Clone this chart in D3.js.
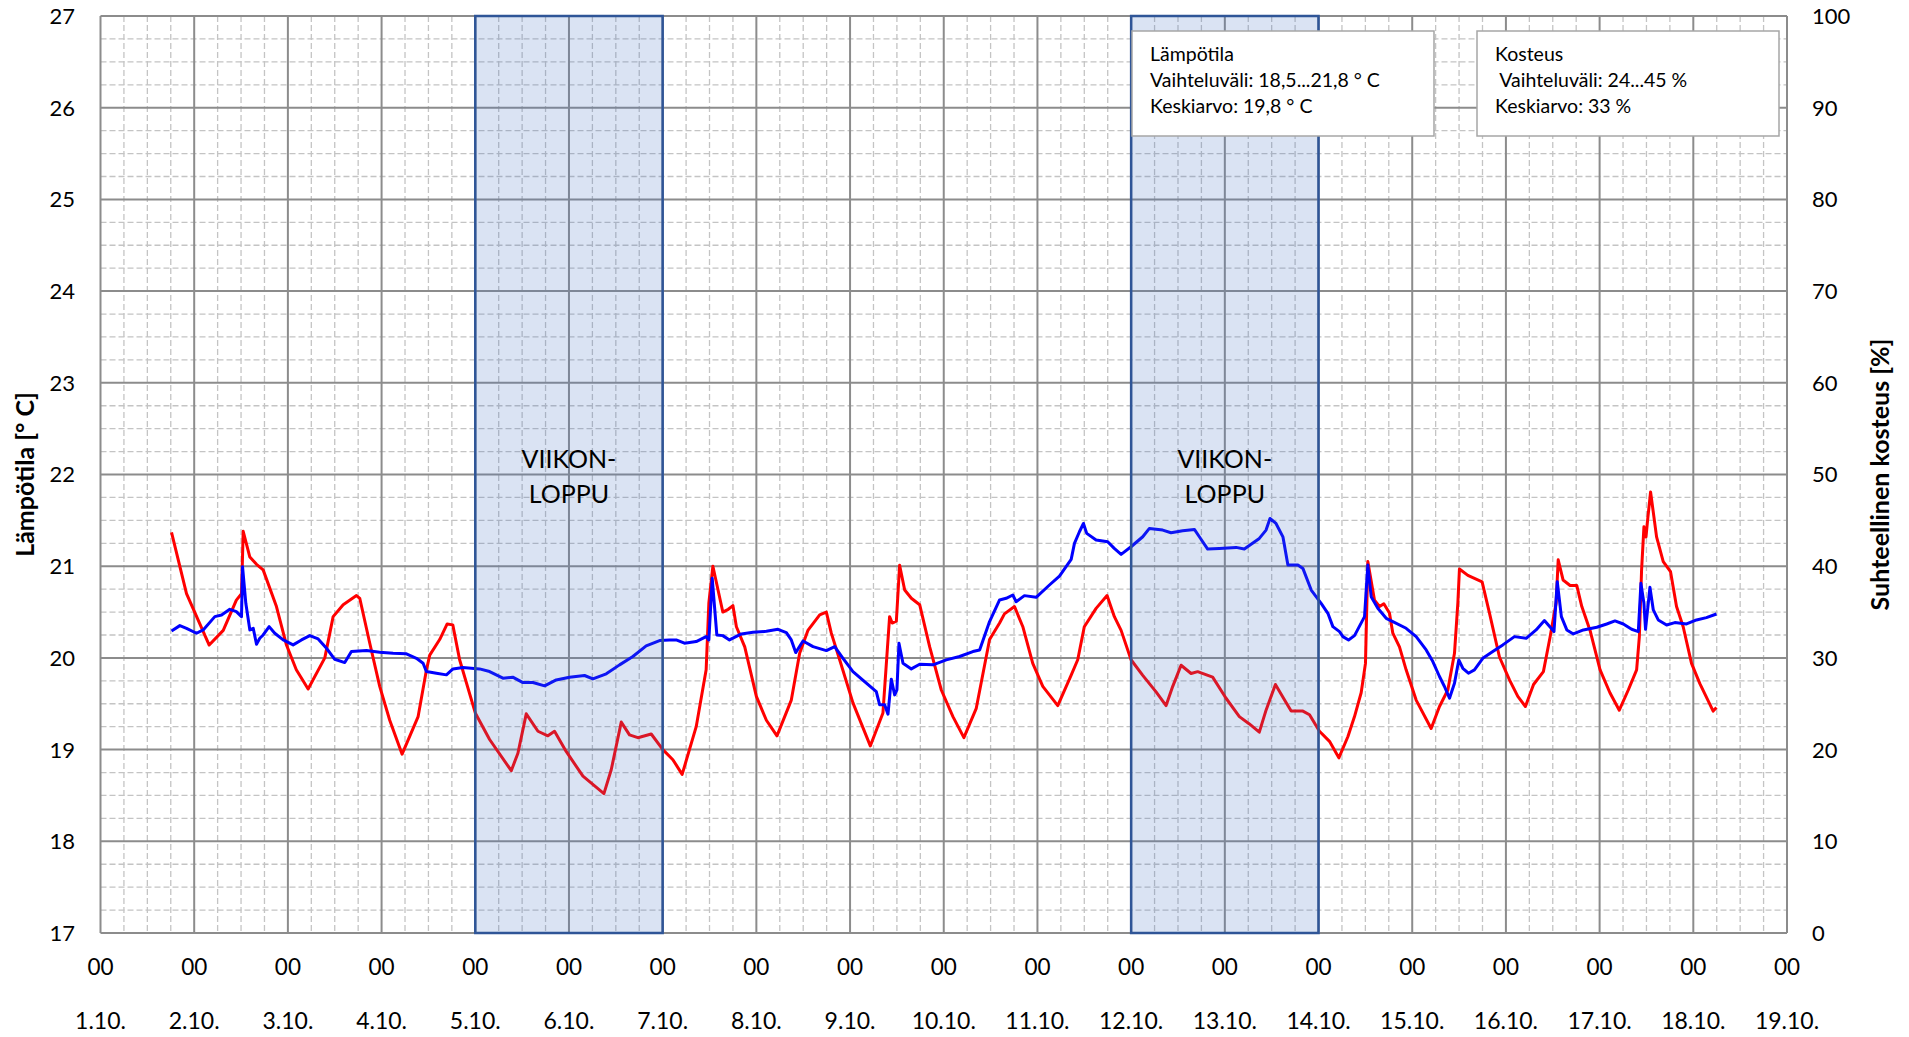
<!DOCTYPE html>
<html lang="fi">
<head>
<meta charset="utf-8">
<title>Lämpötila ja suhteellinen kosteus 1.–19.10.</title>
<script src="https://cdn.jsdelivr.net/npm/d3@7"></script>
<style>
  html, body { margin: 0; padding: 0; background: #fff; }
  svg { display: block; font-family: Lato, "Noto Sans", sans-serif; }
  text { white-space: pre; }
</style>
</head>
<body>
<svg id="chart" width="1909" height="1037"></svg>
<script>
// Day index 0 = 1.10. 00:00, fractional part = time of day
const tempTime = [0.758,0.918,1.16,1.31,1.45,1.505,1.523,1.594,1.665,1.736,1.878,1.985,2.09,2.216,2.394,2.483,2.59,2.732,2.767,2.874,2.98,3.087,3.219,3.39,3.479,3.514,3.62,3.70,3.76,3.833,4.0,4.153,4.384,4.455,4.544,4.669,4.775,4.846,4.97,5.149,5.373,5.451,5.558,5.646,5.735,5.878,6.002,6.109,6.208,6.358,6.464,6.493,6.536,6.642,6.70,6.75,6.787,6.876,7.0,7.107,7.22,7.373,7.462,7.55,7.676,7.747,7.80,7.889,8.031,8.216,8.351,8.422,8.45,8.494,8.529,8.583,8.654,8.743,8.85,8.974,9.098,9.215,9.347,9.489,9.596,9.648,9.755,9.844,9.95,10.057,10.217,10.359,10.43,10.5,10.626,10.743,10.821,10.893,10.999,11.124,11.266,11.373,11.444,11.533,11.64,11.71,11.87,12.013,12.155,12.262,12.368,12.44,12.54,12.655,12.708,12.833,12.904,13.01,13.117,13.217,13.313,13.384,13.455,13.501,13.516,13.526,13.597,13.651,13.697,13.757,13.793,13.864,13.935,14.042,14.202,14.291,14.38,14.451,14.487,14.504,14.594,14.746,14.824,14.931,15.038,15.127,15.208,15.295,15.40,15.472,15.536,15.558,15.61,15.685,15.756,15.81,15.898,16.005,16.11,16.21,16.306,16.395,16.424,16.448,16.473,16.495,16.512,16.544,16.608,16.679,16.757,16.821,16.892,16.981,17.07,17.212,17.247];
const tempC = [21.37,20.70,20.14,20.30,20.63,20.70,21.38,21.10,21.02,20.96,20.56,20.14,19.87,19.66,20.00,20.45,20.58,20.68,20.65,20.16,19.69,19.32,18.95,19.36,19.87,20.03,20.20,20.37,20.36,19.98,19.40,19.11,18.77,18.96,19.39,19.20,19.15,19.20,18.98,18.71,18.52,18.78,19.30,19.16,19.13,19.17,19.00,18.89,18.73,19.25,19.87,20.60,21.00,20.50,20.53,20.57,20.34,20.12,19.58,19.32,19.15,19.54,20.05,20.30,20.47,20.50,20.27,19.98,19.51,19.04,19.40,20.45,20.38,20.40,21.01,20.74,20.65,20.58,20.12,19.65,19.36,19.13,19.45,20.20,20.38,20.48,20.56,20.34,19.94,19.69,19.48,19.81,19.98,20.34,20.54,20.68,20.45,20.30,19.98,19.81,19.63,19.48,19.69,19.92,19.83,19.85,19.79,19.56,19.36,19.28,19.19,19.43,19.71,19.51,19.42,19.42,19.38,19.20,19.09,18.91,19.14,19.36,19.62,19.94,20.60,21.05,20.63,20.56,20.59,20.49,20.27,20.12,19.87,19.54,19.23,19.47,19.65,20.05,20.60,20.97,20.90,20.83,20.49,20.01,19.76,19.58,19.47,19.71,19.85,20.23,20.60,21.07,20.85,20.79,20.79,20.56,20.30,19.87,19.62,19.43,19.65,19.87,20.23,20.96,21.43,21.32,21.50,21.81,21.32,21.05,20.94,20.56,20.34,19.94,19.72,19.42,19.46];

const humTime = [0.758,0.847,0.918,1.025,1.096,1.22,1.292,1.38,1.45,1.505,1.516,1.551,1.594,1.63,1.665,1.70,1.736,1.80,1.86,1.95,2.056,2.145,2.234,2.323,2.412,2.50,2.607,2.678,2.838,2.98,3.123,3.265,3.372,3.443,3.479,3.585,3.692,3.762,3.868,4.046,4.153,4.295,4.40,4.509,4.615,4.74,4.864,5.006,5.166,5.255,5.398,5.54,5.682,5.824,5.967,6.073,6.144,6.233,6.358,6.464,6.493,6.529,6.578,6.642,6.713,6.84,6.964,7.107,7.231,7.32,7.373,7.42,7.498,7.605,7.747,7.836,7.925,8.031,8.174,8.28,8.316,8.369,8.405,8.44,8.476,8.50,8.522,8.565,8.654,8.743,8.885,9.027,9.169,9.311,9.383,9.489,9.596,9.666,9.737,9.772,9.861,9.986,10.128,10.235,10.36,10.395,10.448,10.491,10.526,10.626,10.75,10.82,10.893,10.999,11.124,11.195,11.337,11.426,11.55,11.675,11.728,11.817,11.942,12.12,12.208,12.368,12.44,12.482,12.546,12.62,12.673,12.78,12.833,12.922,13.028,13.10,13.153,13.224,13.26,13.32,13.384,13.491,13.526,13.562,13.633,13.722,13.793,13.935,14.042,14.149,14.22,14.291,14.344,14.398,14.451,14.497,14.54,14.60,14.664,14.753,14.86,14.967,15.091,15.216,15.322,15.411,15.513,15.548,15.592,15.65,15.72,15.827,15.97,16.076,16.164,16.253,16.342,16.413,16.441,16.473,16.49,16.512,16.537,16.573,16.626,16.715,16.803,16.928,17.034,17.14,17.247];
const humPct = [32.94,33.52,33.23,32.69,33.05,34.50,34.68,35.30,35.05,34.50,39.95,35.95,33.05,33.23,31.49,32.14,32.50,33.41,32.69,31.96,31.42,31.96,32.43,32.07,31.05,29.85,29.49,30.69,30.80,30.62,30.51,30.44,29.96,29.42,28.51,28.33,28.15,28.80,28.95,28.80,28.51,27.79,27.90,27.31,27.31,26.95,27.60,27.90,28.08,27.71,28.26,29.24,30.15,31.31,31.89,31.96,31.96,31.60,31.78,32.32,31.96,38.68,32.50,32.43,31.96,32.61,32.79,32.90,33.12,32.76,31.96,30.58,31.85,31.23,30.80,31.23,29.96,28.51,27.24,26.33,24.88,24.88,23.87,27.68,25.97,26.52,31.60,29.42,28.80,29.31,29.24,29.78,30.15,30.69,30.87,33.96,36.32,36.50,36.86,36.13,36.79,36.61,37.95,38.93,40.74,42.49,43.76,44.66,43.58,42.85,42.67,41.94,41.29,42.12,43.21,44.12,43.94,43.65,43.87,44.01,43.21,41.87,41.94,42.05,41.87,43.03,43.94,45.21,44.66,43.20,40.13,40.13,39.76,37.40,35.95,34.86,33.41,32.87,32.32,31.96,32.43,34.50,40.13,36.68,35.41,34.32,33.96,33.23,32.32,30.87,29.60,27.97,26.88,25.61,27.24,29.78,28.87,28.33,28.69,29.96,30.69,31.42,32.32,32.14,33.05,34.07,32.87,38.31,34.50,33.05,32.61,33.05,33.34,33.70,34.03,33.70,33.12,32.87,38.13,35.95,33.12,35.23,37.70,35.23,34.14,33.59,33.85,33.70,34.14,34.39,34.79];

// Axis labels
const dayLabels = ["1.10.","2.10.","3.10.","4.10.","5.10.","6.10.","7.10.","8.10.","9.10.","10.10.","11.10.","12.10.","13.10.","14.10.","15.10.","16.10.","17.10.","18.10.","19.10."];
const hourLabel = "00";
const tempTicks = [17,18,19,20,21,22,23,24,25,26,27];
const humTicks = [0,10,20,30,40,50,60,70,80,90,100];

// Weekends (start day, end day)
const weekendStart = [4, 11];
const weekendEnd = [6, 13];
const weekendText = ["VIIKON-", "LOPPU"];

// Info boxes
const tempInfo = ["Lämpötila", "Vaihteluväli: 18,5...21,8 ° C", "Keskiarvo: 19,8 ° C"];
const humInfo = ["Kosteus", " Vaihteluväli: 24...45 %", "Keskiarvo: 33 %"];

const svg = d3.select("#chart");
const plotLeft = 100.5, plotRight = 1787, plotTop = 16, plotBottom = 933;

const x = d3.scaleLinear().domain([0, 18]).range([plotLeft, plotRight]);
const yT = d3.scaleLinear().domain([17, 27]).range([plotBottom, plotTop]);
const yH = d3.scaleLinear().domain([0, 100]).range([plotBottom, plotTop]);

// Minor grid (6 h / 0.25 °C)
const grid = svg.append("g");
const minorX = d3.range(0, 18.001, 0.25).filter(d => Math.abs(d - Math.round(d)) > 1e-6);
const minorY = d3.range(17, 27.001, 0.25).filter(d => Math.abs(d - Math.round(d)) > 1e-6);
grid.selectAll("line.mx").data(minorX).join("line")
  .attr("x1", d => x(d)).attr("x2", d => x(d)).attr("y1", plotTop).attr("y2", plotBottom)
  .attr("stroke", "#c4c4c4").attr("stroke-width", 1.3).attr("stroke-dasharray", "6,3");
grid.selectAll("line.my").data(minorY).join("line")
  .attr("x1", plotLeft).attr("x2", plotRight).attr("y1", d => yT(d)).attr("y2", d => yT(d))
  .attr("stroke", "#c4c4c4").attr("stroke-width", 1.3).attr("stroke-dasharray", "6,3");

// Major grid (days / 1 °C)
grid.selectAll("line.MX").data(d3.range(0, 19)).join("line")
  .attr("x1", d => x(d)).attr("x2", d => x(d)).attr("y1", plotTop).attr("y2", plotBottom)
  .attr("stroke", "#8c8c8c").attr("stroke-width", 2);
grid.selectAll("line.MY").data(tempTicks).join("line")
  .attr("x1", plotLeft).attr("x2", plotRight).attr("y1", d => yT(d)).attr("y2", d => yT(d))
  .attr("stroke", "#8c8c8c").attr("stroke-width", 2);

// Series
const tempLine = d3.line().x(d => x(d[0])).y(d => yT(d[1]));
const humLine = d3.line().x(d => x(d[0])).y(d => yH(d[1]));
svg.append("path").datum(d3.zip(tempTime, tempC))
  .attr("d", tempLine).attr("fill", "none").attr("stroke", "#ff0000")
  .attr("stroke-width", 3).attr("stroke-linejoin", "round");
svg.append("path").datum(d3.zip(humTime, humPct))
  .attr("d", humLine).attr("fill", "none").attr("stroke", "#0000ff")
  .attr("stroke-width", 3).attr("stroke-linejoin", "round");

// Weekend bands
const wk = svg.append("g");
d3.range(weekendStart.length).forEach(i => {
  wk.append("rect")
    .attr("x", x(weekendStart[i])).attr("y", plotTop)
    .attr("width", x(weekendEnd[i]) - x(weekendStart[i])).attr("height", plotBottom - plotTop)
    .attr("fill", "#4472c4").attr("fill-opacity", 0.2)
    .attr("stroke", "#2f5597").attr("stroke-width", 2.5);
  const cx = x((weekendStart[i] + weekendEnd[i]) / 2);
  wk.append("g").selectAll("text").data(weekendText).join("text")
    .attr("x", cx).attr("y", (d, j) => 468 + j * 35)
    .attr("text-anchor", "middle").attr("font-size", 25).attr("fill", "#000")
    .text(d => d);
});

// Tick labels
const lab = svg.append("g").attr("fill", "#000");
lab.append("g").selectAll("text").data(tempTicks).join("text")
  .attr("x", 75).attr("y", d => yT(d)).attr("dy", "0.36em")
  .attr("text-anchor", "end").attr("font-size", 22).text(d => d);
lab.append("g").selectAll("text").data(humTicks).join("text")
  .attr("x", 1812).attr("y", d => yH(d)).attr("dy", "0.36em")
  .attr("text-anchor", "start").attr("font-size", 22).text(d => d);
lab.append("g").selectAll("text").data(dayLabels).join("text")
  .attr("x", (d, i) => x(i)).attr("y", 975)
  .attr("text-anchor", "middle").attr("font-size", 22.5).text(hourLabel);
lab.append("g").selectAll("text").data(dayLabels).join("text")
  .attr("x", (d, i) => x(i)).attr("y", 1029)
  .attr("text-anchor", "middle").attr("font-size", 23).text(d => d);

// Axis titles
lab.append("text")
  .attr("transform", `translate(34,${yT(22)}) rotate(-90)`)
  .attr("text-anchor", "middle").attr("font-size", 25).attr("font-weight", "bold")
  .text("Lämpötila [° C]");
lab.append("text")
  .attr("transform", `translate(1889,${yT(22)}) rotate(-90)`)
  .attr("text-anchor", "middle").attr("font-size", 25).attr("font-weight", "bold")
  .text("Suhteellinen kosteus [%]");

// Info boxes
function infoBox(x0, lines) {
  const g = svg.append("g");
  g.append("rect").attr("x", x0).attr("y", 31).attr("width", 302).attr("height", 105)
    .attr("fill", "#fff").attr("stroke", "#a6a6a6").attr("stroke-width", 1.5);
  g.selectAll("text").data(lines).join("text")
    .attr("x", x0 + 18).attr("y", (d, i) => 61 + i * 26)
    .attr("font-size", 19.5).attr("fill", "#000").text(d => d);
}
infoBox(1132, tempInfo);
infoBox(1477, humInfo);
</script>
</body>
</html>
